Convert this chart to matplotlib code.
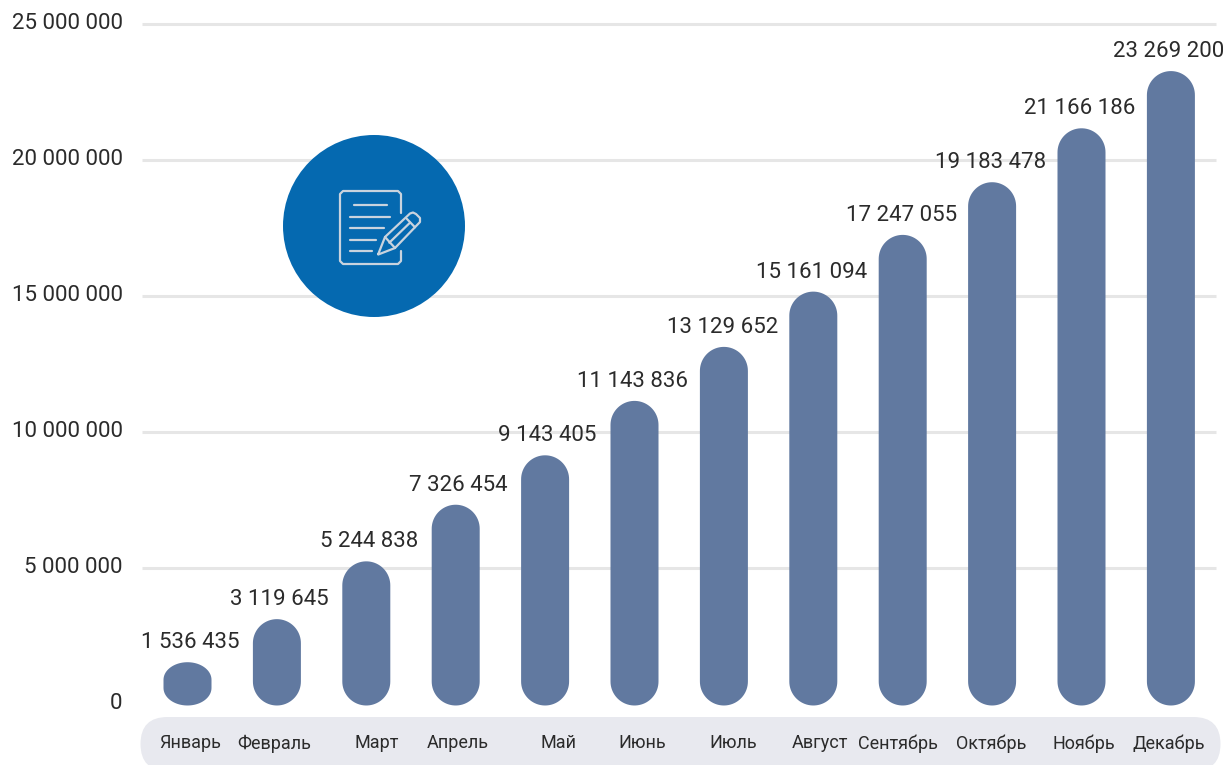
import numpy as np
import matplotlib
matplotlib.use('Agg')
import matplotlib.pyplot as plt
from matplotlib.patches import Circle, FancyBboxPatch, Polygon
from matplotlib.transforms import Affine2D, ScaledTranslation

plt.rcParams['font.family'] = ['Roboto', 'DejaVu Sans']

meses = ['Январь', 'Февраль', 'Март', 'Апрель', 'Май', 'Июнь', 'Июль',
         'Август', 'Сентябрь', 'Октябрь', 'Ноябрь', 'Декабрь']
valores = [1536435, 3119645, 5244838, 7326454, 9143405, 11143836, 13129652,
           15161094, 17247055, 19183478, 21166186, 23269200]
ticks_y = [0, 5000000, 10000000, 15000000, 20000000, 25000000]
# los rotulos no van centrados en la barra (px)
desvio_mes = [3, -3, 10, 2, 13, 8, 9, 7, -5, -1, 2, -2]
desvio_valor = [3, 2, 3, 3, 2, -2, -1, -2, -1, -2, -2, -2]

W, H = 1226, 765
fig = plt.figure(figsize=(W / 100, H / 100), dpi=100, facecolor='white')
ax = fig.add_axes([142 / W, (H - 717) / H, (W - 142) / W, 717 / H])
ax.set_facecolor('none')
for s in ax.spines.values():
    s.set_visible(False)

# escalas: 136 px cada 5 millones, 89.4 px entre barras
px_y = 27.2e-6
px_x = 89.4
cero_px = 704
ax.set_ylim(-(717 - cero_px) / px_y, cero_px / px_y)
ax.set_xlim((142 - 187.5) / px_x, (W - 187.5) / px_x)

# transform en pixeles de imagen (origen arriba a la izquierda)
tr_px = Affine2D().scale(1, -1).translate(0, H)

# banda gris de los meses
banda = FancyBboxPatch((140.5, 717), 1080, 54, boxstyle='round,pad=0,rounding_size=27',
                       fc='#e8e9ef', ec='none', transform=tr_px, clip_on=False, zorder=0)
fig.add_artist(banda)

ax.hlines(ticks_y[1:], (142 - 187.5) / px_x, (1216 - 187.5) / px_x,
          color='#e6e6e6', lw=2.2, zorder=1)


def barra_redonda(x, valor):
    # barra con extremos semielipticos, en coordenadas de datos
    h_px = valor * px_y
    rx = 24
    ry = min(24, h_px * 0.42)
    base = -1.5 / px_y
    t = np.linspace(0, np.pi, 40)
    xs_top = x + rx * np.cos(t) / px_x
    ys_top = valor - (ry - ry * np.sin(t)) / px_y
    xs_bot = x - rx * np.cos(t) / px_x
    ys_bot = base + (ry - ry * np.sin(t)) / px_y
    pts = np.column_stack([np.r_[xs_top, xs_bot], np.r_[ys_top, ys_bot]])
    ax.add_patch(Polygon(pts, closed=True, fc='#6179a0', ec='none', zorder=2))


posiciones = np.arange(len(meses))
for i, v, dx in zip(posiciones, valores, desvio_valor):
    barra_redonda(i, v)
    etiqueta = f'{v:,}'.replace(',', ' ')
    ax.annotate(etiqueta, (i, v), xytext=(dx, 9), textcoords='offset pixels',
                ha='center', va='bottom', fontsize=16, color='#2b2b2b', zorder=3)

ax.set_yticks(ticks_y)
ax.set_yticklabels([f'{t:,}'.replace(',', ' ') for t in ticks_y], fontsize=16, color='#2b2b2b')
ax.tick_params(axis='y', length=0, pad=14)
for lbl in ax.get_yticklabels():
    lbl.set_transform(lbl.get_transform() + ScaledTranslation(0, 3 / 100, fig.dpi_scale_trans))
ax.set_xticks(posiciones)
ax.set_xticklabels(meses, fontsize=13, color='#2b2b2b')
ax.tick_params(axis='x', length=0, pad=12.5)
for lbl, dx in zip(ax.get_xticklabels(), desvio_mes):
    lbl.set_transform(lbl.get_transform() + ScaledTranslation(dx / 100, 0, fig.dpi_scale_trans))

# icono: circulo con documento y lapiz
fig.add_artist(Circle((374, 226), 91, fc='#0569b0', ec='none', transform=tr_px, zorder=4))
icono = '#c9d3de'


def trazo(xs, ys, lw=1.6):
    fig.add_artist(plt.Line2D(xs, ys, color=icono, lw=lw, transform=tr_px,
                              zorder=5, solid_capstyle='round', solid_joinstyle='round'))


trazo([401, 401, 398, 343, 340, 340, 343, 398, 401, 401],
      [213, 194, 191, 191, 194, 261, 264, 264, 261, 251])
trazo([354, 387], [205.3, 205.3])
trazo([350, 390], [216.7, 216.7])
trazo([350, 384], [228.3, 228.3])
trazo([350, 376], [239.7, 239.7])
trazo([350, 372], [251, 251])
trazo([378.3, 385, 410, 413, 416, 420, 420, 395, 378.3, 378.3],
      [254, 237, 213.5, 212.5, 214, 218, 222, 248, 254.5, 254])
trazo([385, 395], [237, 248])
trazo([406.7, 415], [218.7, 227.3])
trazo([389.3, 410], [242.7, 222.7])

fig.savefig('out.png', dpi=100)
